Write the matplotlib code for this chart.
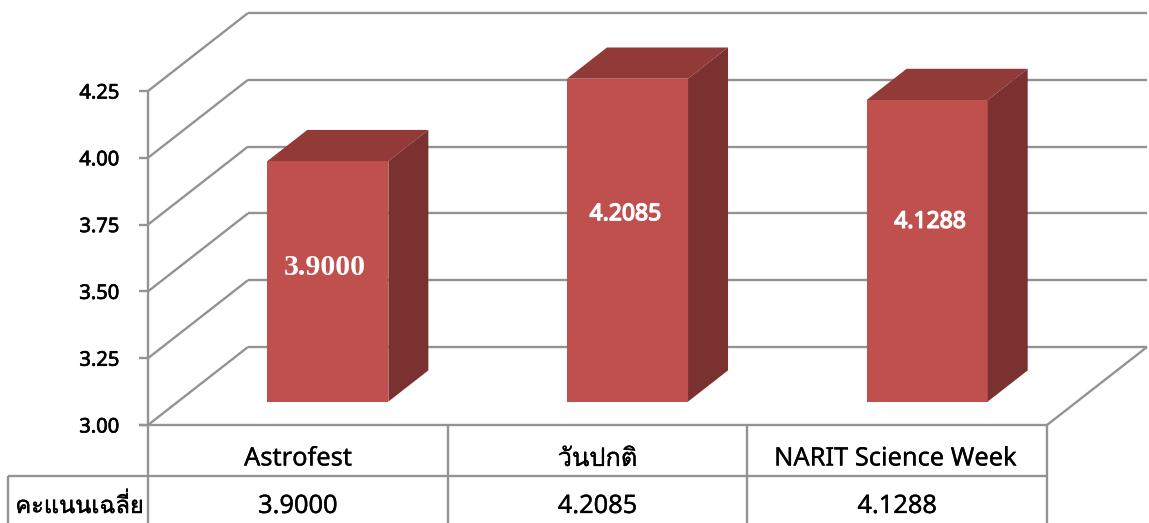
import matplotlib
matplotlib.use("Agg")
import matplotlib.pyplot as plt
import matplotlib.patheffects as pe

categories = ["Astrofest", "วันปกติ", "NARIT Science Week"]
scores = [3.9000, 4.2085, 4.1288]
score_labels = ["3.9000", "4.2085", "4.1288"]
yticks = [3.00, 3.25, 3.50, 3.75, 4.00, 4.25]
row_title = "คะแนนเฉลี่ย"

# the labels were dragged by hand in the original (px from bar centre)
label_shift = [(-3, 14), (-2, 26), (3, 29)]

W, H = 1149, 523
SANS = ["Noto Sans", "DejaVu Sans"]
THAI = ["Loma", "Noto Sans Thai Looped", "Noto Sans", "DejaVu Sans"]
GRID = "#939393"
FRONT = "#C0504D"
TOP = "#923A38"
SIDE = "#7B3130"

PX_X = 299.7  # px per category
PX_Y = 267.2  # px per score unit

# fake 3d: depth 1 is the back wall
DX = 100 / PX_X
DY = 78 / PX_Y
BAR_W = 0.404


def proj(x, y, d):
    return x + d * DX, y + d * DY


def heavy(width, color):
    # noto comes out regular even with weight=bold, so thicken the outline
    return [pe.withStroke(linewidth=width, foreground=color)]


fig = plt.figure(figsize=(W / 100, H / 100), dpi=100)
ax = fig.add_axes([148 / W, (H - 425) / H, 899 / W, 334 / H])
ax.set_xlim(0, 3)
ax.set_ylim(3, 4.25)
ax.axis("off")

line = dict(color=GRID, lw=1.7, clip_on=False, solid_capstyle="butt")

# walls
for t in yticks:
    x0, y0 = proj(0, t, 0)
    x1, y1 = proj(0, t, 1)
    x2, y2 = proj(3, t, 1)
    ax.plot([x0, x1], [y0, y1], **line)
    ax.plot([x1, x2], [y1, y2], **line)
    ax.plot([x0 - 0.03, x0], [y0, y0], **line)
    ax.text(-0.095, t - 2.5 / PX_Y, f"{t:.2f}", ha="right", va="center", fontsize=14.5,
            family=SANS, color="black", path_effects=heavy(0.5, "black"))

# floor right edge
x1, y1 = proj(3, 3, 1)
ax.plot([3, x1], [3, y1], **line)

# bars
for i, v in enumerate(scores):
    xl = i + 0.5 - BAR_W / 2
    xr = i + 0.5 + BAR_W / 2
    a, b = proj(xl, 3, 0.3), proj(xr, 3, 0.3)
    c, e = proj(xl, v, 0.3), proj(xr, v, 0.3)
    f, g = proj(xl, v, 0.7), proj(xr, v, 0.7)
    h = proj(xr, 3, 0.7)
    ax.fill(*zip(a, b, e, c), color=FRONT, lw=0, clip_on=False, zorder=3)
    ax.fill(*zip(c, e, g, f), color=TOP, lw=0, clip_on=False, zorder=3)
    ax.fill(*zip(b, h, g, e), color=SIDE, lw=0, clip_on=False, zorder=3)
    mx, my = proj(i + 0.5, (3 + v) / 2, 0.3)
    mx += label_shift[i][0] / PX_X
    my += label_shift[i][1] / PX_Y
    if i == 0:
        ax.text(mx, my, score_labels[i], ha="center", va="center", color="white",
                fontsize=21.5, weight="bold", family="Liberation Serif", zorder=4)
    else:
        ax.text(mx, my, score_labels[i], ha="center", va="center", color="white",
                fontsize=16.5, family=SANS, zorder=4, path_effects=heavy(1.0, "white"))

# data table under the chart
row1 = 3 - 51 / PX_Y
bottom = 3 - 98 / PX_Y
title_x = -140 / PX_X
ax.plot([-0.03, 3], [3, 3], **line)
ax.plot([title_x, 3], [row1, row1], **line)
ax.plot([title_x, title_x], [row1, bottom], **line)
ax.plot([0, 0], [4.25, bottom], **line)
for x in [1, 2, 3]:
    ax.plot([x, x], [3, bottom], **line)

for i, name in enumerate(categories):
    ax.text(i + 0.5 - (2 / PX_X if i == 2 else 0), 3 - 34 / PX_Y, name, ha="center", va="center",
            fontsize=18.3, family=THAI if i == 1 else SANS, color="black",
            path_effects=heavy(0.2, "black"))
    ax.text(i + 0.5, 3 - 81.5 / PX_Y, score_labels[i], ha="center", va="center", fontsize=18.3,
            family=SANS, color="black", path_effects=heavy(0.2, "black"))
ax.text(title_x / 2 + 0.005, 3 - 81 / PX_Y, row_title, ha="center", va="center", fontsize=17,
        family=THAI, color="black", path_effects=heavy(0.3, "black"))

fig.savefig("out.png", dpi=100)
